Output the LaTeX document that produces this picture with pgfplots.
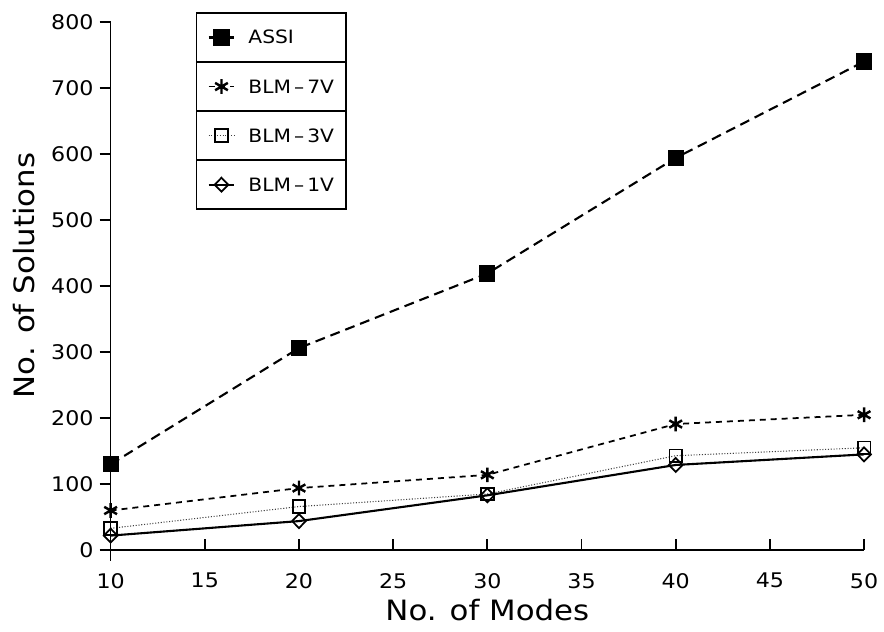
\documentclass[border=0pt]{standalone}
\usepackage{fontspec}
\setmainfont{DejaVu Sans}[FakeStretch=1.1]
\usepackage{pgfplots}
\usepackage{pgfplotstable}
\pgfplotsset{compat=1.18}
\usetikzlibrary{calc}

% values (corrected for its slight tilt)
\pgfplotstableread{
x   assi blmseven blmthree blmone
10  130  60       33       22
20  306  94       66       44
30  419  114      85       83
40  594  191      143      129
50  740  205      155      145
}\modes

\begin{document}
\begin{tikzpicture}
\begin{axis}[
  at={(0,0)}, anchor=south west,
  width=15.12cm, height=10.6cm, scale only axis,
  xmin=10, xmax=50, ymin=0, ymax=800,
  xtick={10,15,...,50}, ytick={0,100,...,800},
  axis lines=left, axis line style={-, line width=1pt},
  tick align=outside, major tick length=0.22cm,
  tick style={line width=1pt, black},
  xtick style={yshift=0.22cm},
  ticklabel style={font=\fontsize{11.5}{13}\selectfont},
  /pgf/number format/assume math mode=true,
  xticklabel style={yshift=-0.12cm},
  xlabel={No. of Modes},
  ylabel={No. of Solutions},
  label style={font=\fontsize{16}{19}\selectfont},
  xlabel style={at={(axis description cs:0.5,0)}, anchor=center, yshift=-1.2cm},
  ylabel style={at={(axis description cs:-0.115,0.52)}, anchor=center},
  clip=false,
  legend cell align=left,
  legend style={name=leg, at={(0.114,1.017)}, anchor=north west,
    draw=black, line width=1pt, inner sep=0pt, outer sep=0pt,
    row sep=0pt, column sep=0pt,
    font=\fontsize{10.5}{12}\selectfont,
    nodes={inner sep=0pt, text height=0.6225cm, text depth=0.3625cm,
      text width=1.96cm, align=left}},
  legend image code/.code={
    \path (0cm,0cm) (1.0cm,0cm);
    \draw[mark repeat=2,mark phase=2,#1]
      plot coordinates {(0.22cm,0cm) (0.48cm,0cm) (0.74cm,0cm)};},
]
\addplot[black, line width=1.2pt, dash pattern=on 0.2cm off 0.12cm,
  mark=square*, mark size=4pt, mark options={solid}]
  table[x=x, y=assi] {\modes};
\addlegendentry{ASSI}
\addplot[black, line width=1pt, dash pattern=on 0.12cm off 0.1cm,
  mark=asterisk, mark size=4.2pt, mark options={solid, line width=1.4pt}]
  table[x=x, y=blmseven] {\modes};
\addlegendentry{BLM\,--\,7V}
\addplot[black!75, line width=0.6pt, densely dotted,
  mark=square, mark size=3.6pt, mark options={solid, black, line width=1pt}]
  table[x=x, y=blmthree] {\modes};
\addlegendentry{BLM\,--\,3V}
\addplot[black, line width=1.2pt,
  mark=diamond, mark size=4pt, mark options={solid, fill=white, line width=1pt, xscale=1.3}]
  table[x=x, y=blmone] {\modes};
\addlegendentry{BLM\,--\,1V}

% y axis runs a little below the x axis
\draw[line width=1pt] (axis cs:10,0) -- ([yshift=-0.22cm]axis cs:10,0);
\end{axis}

% each legend entry sits in its own box
\foreach \f in {0.25,0.5,0.75}
  \draw[line width=1pt] ($(leg.north west)!\f!(leg.south west)$)
    -- ($(leg.north east)!\f!(leg.south east)$);

\path (-2.22,-1.64) rectangle (15.46,11.04);
\end{tikzpicture}
\end{document}
